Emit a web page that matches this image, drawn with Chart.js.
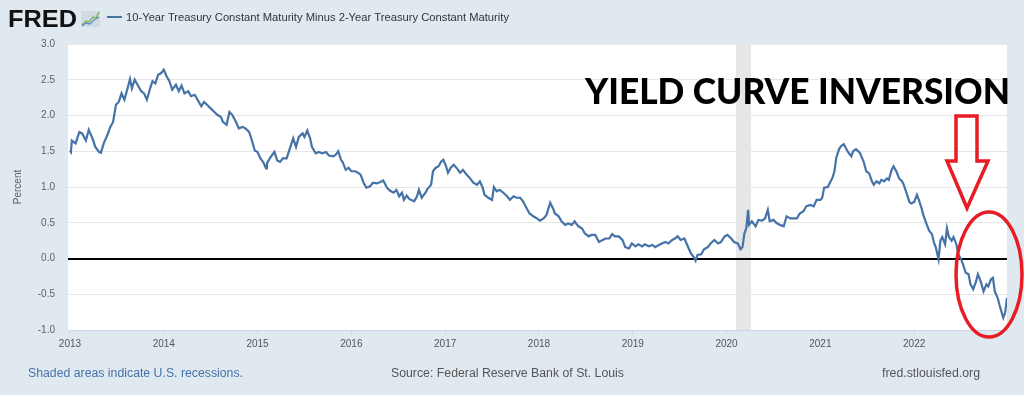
<!DOCTYPE html>
<html>
<head>
<meta charset="utf-8">
<script src="https://cdn.jsdelivr.net/npm/chart.js@4.4.1/dist/chart.umd.min.js"></script>
<style>
  html, body { margin: 0; padding: 0; background: #e1e9f0; }
  #wrap { position: relative; width: 1024px; height: 395px; }
  canvas { display: block; }
</style>
</head>
<body>
<div id="wrap"><canvas id="c" width="1024" height="395"></canvas></div>
<script>
// ---- data (decimal years, percent) ----
const years = [
  2013.00,2013.01,2013.02,2013.06,2013.10,2013.13,2013.17,2013.20,2013.24,2013.27,2013.31,2013.33,2013.36,2013.40,2013.43,2013.46,2013.49,2013.52,2013.55,2013.58,2013.61,2013.64,2013.66,2013.69,2013.72,2013.76,2013.79,2013.82,2013.85,2013.88,2013.91,2013.94,2013.97,
  2014.00,2014.03,2014.06,2014.09,2014.13,2014.16,2014.19,2014.22,2014.26,2014.29,2014.33,2014.36,2014.40,2014.43,2014.46,2014.50,2014.54,2014.57,2014.61,2014.63,2014.67,2014.70,2014.73,2014.77,2014.80,2014.84,2014.87,2014.91,2014.94,2014.97,
  2015.00,2015.03,2015.06,2015.09,2015.10,2015.14,2015.18,2015.21,2015.24,2015.27,2015.31,2015.35,2015.38,2015.41,2015.44,2015.48,2015.50,2015.53,2015.56,2015.58,2015.62,2015.65,2015.69,2015.73,2015.76,2015.81,2015.84,2015.86,2015.89,2015.91,2015.94,2015.97,
  2016.00,2016.04,2016.07,2016.10,2016.13,2016.16,2016.20,2016.23,2016.27,2016.31,2016.34,2016.38,2016.41,2016.45,2016.48,2016.51,2016.54,2016.56,2016.59,2016.62,2016.67,2016.70,2016.72,2016.75,2016.79,2016.81,2016.85,2016.87,2016.90,2016.93,2016.96,2016.98,
  2017.01,2017.03,2017.06,2017.09,2017.12,2017.16,2017.19,2017.23,2017.26,2017.30,2017.34,2017.37,2017.40,2017.42,2017.46,2017.50,2017.52,2017.55,2017.58,2017.62,2017.66,2017.69,2017.73,2017.76,2017.80,2017.83,2017.87,2017.90,2017.94,2017.98,
  2018.01,2018.05,2018.08,2018.12,2018.15,2018.17,2018.21,2018.24,2018.28,2018.31,2018.35,2018.38,2018.42,2018.46,2018.49,2018.53,2018.56,2018.60,2018.64,2018.68,2018.71,2018.75,2018.78,2018.81,2018.85,2018.89,2018.92,2018.96,2018.99,
  2019.03,2019.06,2019.10,2019.13,2019.17,2019.21,2019.24,2019.28,2019.31,2019.35,2019.38,2019.42,2019.45,2019.48,2019.51,2019.55,2019.59,2019.62,2019.65,2019.67,2019.69,2019.73,2019.76,2019.80,2019.83,2019.87,2019.91,2019.94,2019.98,
  2020.01,2020.05,2020.08,2020.12,2020.15,2020.17,2020.19,2020.21,2020.23,2020.24,2020.27,2020.31,2020.34,2020.38,2020.41,2020.44,2020.46,2020.50,2020.53,2020.57,2020.61,2020.64,2020.68,2020.71,2020.75,2020.78,2020.82,2020.85,2020.89,2020.93,2020.96,
  2021.00,2021.02,2021.04,2021.08,2021.11,2021.13,2021.15,2021.17,2021.20,2021.22,2021.25,2021.27,2021.30,2021.33,2021.35,2021.38,2021.42,2021.46,2021.49,2021.52,2021.55,2021.57,2021.60,2021.63,2021.65,2021.68,2021.71,2021.73,2021.76,2021.78,2021.81,2021.84,2021.87,2021.89,2021.92,2021.95,2021.97,
  2022.00,2022.03,2022.05,2022.08,2022.10,2022.13,2022.16,2022.19,2022.21,2022.23,2022.26,2022.28,2022.30,2022.33,2022.35,2022.37,2022.40,2022.42,2022.45,2022.47,2022.50,2022.52,2022.55,2022.58,2022.60,2022.63,2022.66,2022.68,2022.71,2022.74,2022.77,2022.79,2022.82,2022.84,2022.86,2022.89,2022.91,2022.93,2022.95,2022.97,2022.99
];
const spread = [
  1.51,1.49,1.65,1.61,1.77,1.75,1.65,1.80,1.68,1.56,1.49,1.48,1.61,1.73,1.84,1.91,2.15,2.19,2.31,2.22,2.36,2.51,2.38,2.50,2.43,2.34,2.31,2.22,2.36,2.48,2.45,2.57,2.59,
  2.64,2.55,2.48,2.36,2.43,2.34,2.42,2.31,2.34,2.27,2.29,2.22,2.13,2.19,2.15,2.10,2.05,2.01,1.98,1.91,1.87,2.05,2.01,1.91,1.82,1.84,1.82,1.77,1.65,1.51,
  1.49,1.40,1.35,1.26,1.33,1.42,1.49,1.37,1.35,1.40,1.40,1.56,1.68,1.56,1.70,1.75,1.70,1.79,1.68,1.56,1.47,1.49,1.47,1.49,1.44,1.43,1.46,1.50,1.38,1.34,1.24,1.27,
  1.22,1.22,1.20,1.17,1.06,0.99,1.01,1.06,1.05,1.07,1.09,0.99,0.95,0.92,0.96,0.87,0.92,0.82,0.88,0.83,0.80,0.87,0.96,0.85,0.92,0.97,1.03,1.22,1.27,1.29,1.36,1.38,
  1.29,1.20,1.27,1.31,1.27,1.20,1.24,1.17,1.13,1.06,1.03,1.08,0.99,0.89,0.85,0.82,1.00,0.94,0.96,0.92,0.87,0.82,0.87,0.85,0.85,0.80,0.70,0.63,0.59,0.56,
  0.53,0.56,0.61,0.78,0.70,0.63,0.59,0.52,0.47,0.49,0.47,0.52,0.45,0.42,0.35,0.31,0.33,0.33,0.23,0.26,0.28,0.28,0.34,0.31,0.31,0.26,0.16,0.14,0.21,
  0.17,0.20,0.17,0.20,0.17,0.19,0.16,0.19,0.21,0.23,0.21,0.26,0.28,0.31,0.26,0.28,0.16,0.07,0.02,-0.03,0.05,0.06,0.13,0.16,0.21,0.26,0.21,0.23,0.31,
  0.33,0.28,0.23,0.21,0.13,0.16,0.35,0.42,0.68,0.47,0.52,0.45,0.54,0.53,0.56,0.68,0.52,0.54,0.50,0.47,0.45,0.59,0.56,0.56,0.56,0.63,0.66,0.73,0.75,0.73,0.82,
  0.82,0.85,0.99,1.00,1.08,1.13,1.22,1.41,1.53,1.57,1.60,1.55,1.48,1.43,1.50,1.53,1.48,1.36,1.22,1.19,1.08,1.03,1.08,1.05,1.10,1.08,1.12,1.10,1.24,1.29,1.22,1.12,1.08,1.03,0.91,0.79,0.77,
  0.79,0.89,0.82,0.70,0.60,0.49,0.39,0.34,0.23,0.16,-0.01,0.25,0.30,0.20,0.42,0.30,0.25,0.30,0.20,0.06,-0.01,-0.08,-0.20,-0.22,-0.36,-0.43,-0.32,-0.22,-0.32,-0.46,-0.36,-0.39,-0.29,-0.27,-0.46,-0.55,-0.65,-0.74,-0.83,-0.76,-0.55
];
const recessionStart = 2020.10;
const recessionEnd = 2020.26;
const xMin = 2012.979, xMax = 2022.99;
const yMin = -1, yMax = 3, yStep = 0.5;

const seriesLabel = '10-Year Treasury Constant Maturity Minus 2-Year Treasury Constant Maturity';
const yTitle = 'Percent';
const annotationText = 'YIELD CURVE INVERSION';
const footLeft = 'Shaded areas indicate U.S. recessions.';
const footMid = 'Source: Federal Reserve Bank of St. Louis';
const footRight = 'fred.stlouisfed.org';

const FONT = "'Liberation Sans', Arial, sans-serif";
Chart.defaults.font.family = FONT;

function fitText(ctx, text, x, y, width) {
  const w = ctx.measureText(text).width;
  ctx.save();
  ctx.translate(x, y);
  ctx.scale(width / w, 1);
  ctx.fillText(text, 0, 0);
  ctx.restore();
}

const decor = {
  id: 'decor',
  beforeDraw(chart) {
    const { ctx, chartArea: a, scales: { x } } = chart;
    ctx.save();
    ctx.fillStyle = '#ffffff';
    ctx.fillRect(a.left, a.top, a.right - a.left, a.bottom - a.top);
    const x0 = x.getPixelForValue(recessionStart), x1 = x.getPixelForValue(recessionEnd);
    ctx.fillStyle = '#e6e6e6';
    ctx.fillRect(x0, a.top, x1 - x0, a.bottom - a.top);
    ctx.restore();
  },
  afterDraw(chart) {
    const { ctx } = chart;
    ctx.save();
    ctx.textBaseline = 'alphabetic';
    // FRED logo
    ctx.fillStyle = '#111';
    ctx.font = 'bold 24px ' + FONT;
    fitText(ctx, 'FRED', 8, 27, 69);
    // small chart icon
    ctx.fillStyle = '#d2dbe4';
    ctx.fillRect(81, 11, 19, 16);
    ctx.lineWidth = 1.3;
    ctx.strokeStyle = '#7cb342';
    ctx.beginPath(); ctx.moveTo(82, 25); ctx.lineTo(86, 21); ctx.lineTo(89, 22); ctx.lineTo(93, 17); ctx.lineTo(96, 18); ctx.lineTo(99, 12); ctx.stroke();
    ctx.strokeStyle = '#5b8cc4';
    ctx.beginPath(); ctx.moveTo(82, 26); ctx.lineTo(86, 23); ctx.lineTo(90, 24); ctx.lineTo(94, 20); ctx.lineTo(99, 17); ctx.stroke();
    // legend
    ctx.strokeStyle = '#4572a7';
    ctx.lineWidth = 2;
    ctx.beginPath(); ctx.moveTo(107, 17); ctx.lineTo(122, 17); ctx.stroke();
    ctx.fillStyle = '#333333';
    ctx.font = '11px ' + FONT;
    fitText(ctx, seriesLabel, 126, 21, 383);
    // footer
    ctx.font = '12px ' + FONT;
    ctx.fillStyle = '#4572a7';
    fitText(ctx, footLeft, 28, 377, 215);
    ctx.fillStyle = '#555555';
    fitText(ctx, footMid, 391, 377, 233);
    fitText(ctx, footRight, 882, 377, 98);
    // annotation text
    ctx.fillStyle = '#000000';
    ctx.font = "900 36px Lato, 'Open Sans', sans-serif";
    fitText(ctx, annotationText, 585, 104, 425);
    // red arrow
    ctx.strokeStyle = '#e81c24';
    ctx.lineWidth = 3.5;
    ctx.lineJoin = 'miter';
    ctx.beginPath();
    ctx.moveTo(956, 116); ctx.lineTo(977, 116); ctx.lineTo(977, 161); ctx.lineTo(988, 161);
    ctx.lineTo(967, 208); ctx.lineTo(947, 161); ctx.lineTo(956, 161); ctx.closePath();
    ctx.stroke();
    // red ellipse
    ctx.beginPath();
    ctx.ellipse(989, 274.5, 33, 62.5, 0, 0, Math.PI * 2);
    ctx.stroke();
    ctx.restore();
  }
};

new Chart(document.getElementById('c'), {
  type: 'line',
  data: {
    datasets: [{
      label: seriesLabel,
      data: years.map((x, i) => ({ x, y: spread[i] })),
      borderColor: '#4572a7',
      borderWidth: 2.2,
      pointRadius: 0,
      tension: 0,
      fill: false
    }]
  },
  options: {
    responsive: false,
    animation: false,
    layout: { padding: { left: 0, right: 17, top: 44, bottom: 0 } },
    plugins: { legend: { display: false }, tooltip: { enabled: false } },
    scales: {
      x: {
        type: 'linear', min: xMin, max: xMax,
        ticks: {
          stepSize: 1, includeBounds: false, autoSkip: false, maxRotation: 0,
          callback: v => Number.isInteger(v) ? String(v) : '',
          font: { size: 10 }, color: '#555555', padding: 3
        },
        grid: { drawOnChartArea: false, drawTicks: true, tickLength: 5, color: '#ccd6eb' },
        border: { display: true, color: '#ccd6eb' },
        afterFit: s => { s.height = 65; }
      },
      y: {
        min: yMin, max: yMax,
        ticks: { stepSize: yStep, callback: v => v.toFixed(1), font: { size: 10 }, color: '#606060', padding: 13 },
        grid: {
          color: c => (c.tick && c.tick.value === 0) ? '#000000' : '#e6e6e6',
          lineWidth: c => (c.tick && c.tick.value === 0) ? 2 : 1,
          drawTicks: false
        },
        border: { display: false },
        title: { display: true, text: yTitle, font: { size: 10 }, color: '#606060', padding: { top: 12, bottom: 0 } },
        afterFit: s => { s.width = 68; }
      }
    }
  },
  plugins: [decor]
});
</script>
</body>
</html>
